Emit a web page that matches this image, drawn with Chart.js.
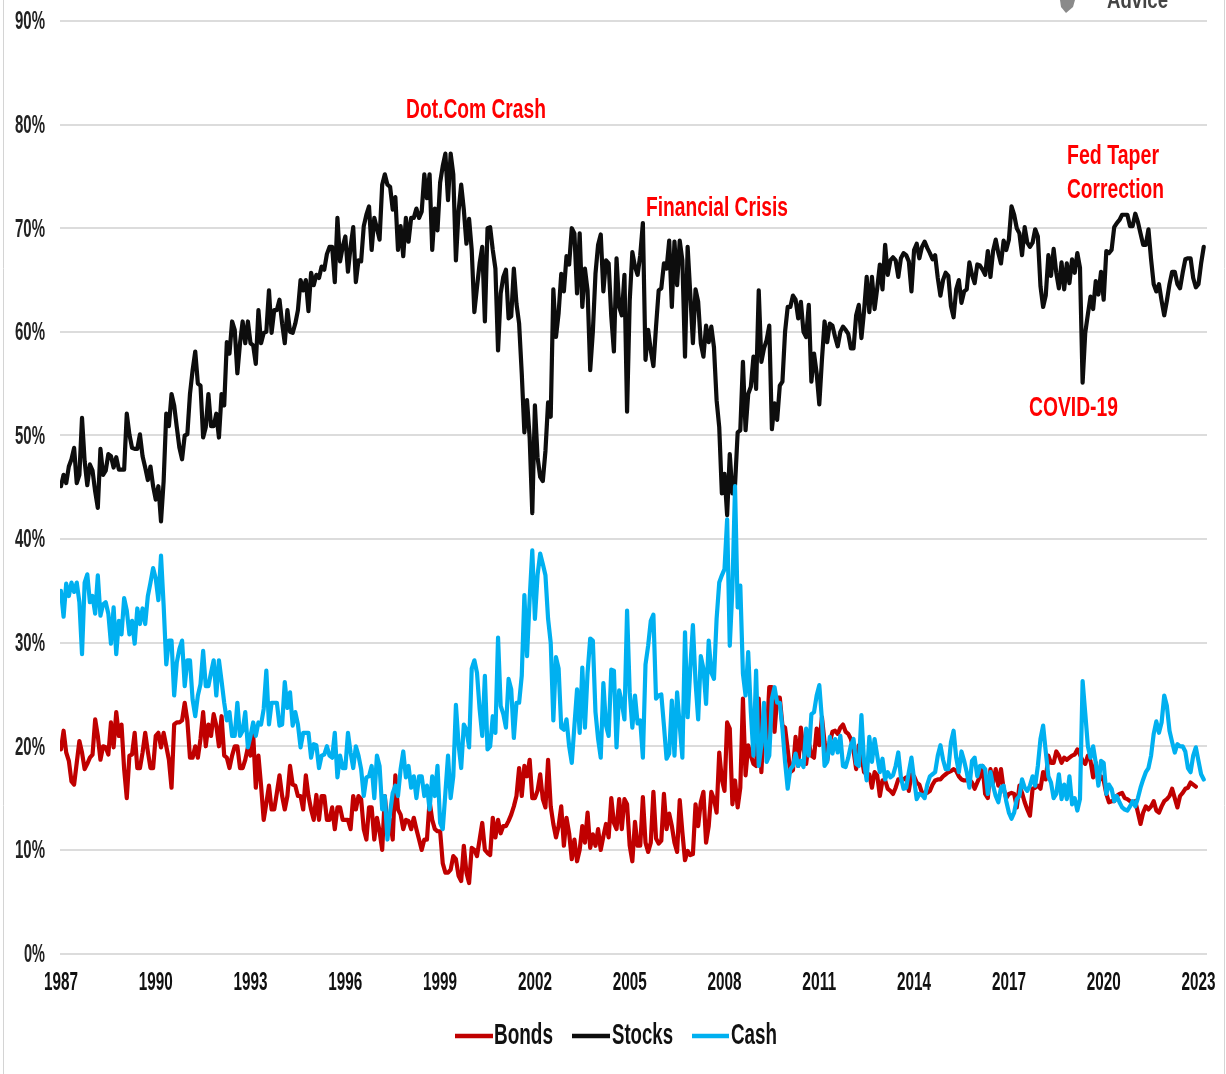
<!DOCTYPE html>
<html>
<head>
<meta charset="utf-8">
<style>html,body{margin:0;padding:0;background:#fff}canvas{display:block}</style>
<script src="https://cdn.jsdelivr.net/npm/chart.js@4/dist/chart.umd.js"></script>
</head>
<body>
<canvas id="c" width="1226" height="1074"></canvas>
<script>
const startYear = 1987;
const xTickLabels = [1987,1990,1993,1996,1999,2002,2005,2008,2011,2014,2017,2020,2023];
const yTickLabels = [0,10,20,30,40,50,60,70,80,90];
const stocks = [
45.1,46.2,45.4,47,47.7,48.8,45.4,46.2,51.7,47.5,45.2,47.2,46.6,44.6,43,48.7,46.2,46.6,48.2,48,46.9,47.9,46.7,46.7,46.7,52.1,50.1,48.8,48.7,48.7,50.1,48,46.9,45.7,47,45.1,43.8,45.1,41.7,45.6,52.1,50.9,54,52.9,50.8,48.8,47.7,50,50.1,54,56.3,58.1,55,54.8,49.8,50.8,54,50.9,50.9,52.1,49.8,54,52.9,59,57.9,61,60.2,56,58.9,61,58.9,61,58.9,58.7,56.9,62.1,58.9,59.9,60,64,59.9,62.1,62.1,63.1,60.8,58.9,62.1,60,59.9,60.8,62.1,65,64,65,62,65.7,
64.5,65.5,65.2,66.3,66,67.5,
68.2,68.2,64.8,71,66.8,68.2,69.2,65.8,68.2,70.1,64.8,66.9,66.8,70.2,71.3,72.1,67.9,71,70,68.9,74.2,75.2,74.2,74,71.8,73,67.9,70.2,67.3,71,68.7,71,71,71.9,71,71.6,75.2,72.9,75.2,67.9,71.9,69.8,74.4,76,77.2,72.7,77.2,75.2,66.9,71.6,74.2,71.8,68.5,70.9,67.9,61.9,64.3,66.6,68.2,61,70,70.1,67.9,66.1,58.2,63.7,65.3,66,61.3,61.5,66.1,62.7,60.8,56,50.3,53.4,49.8,42.5,52.9,47.9,46,45.6,48.5,53.2,51.8,64.1,59.5,61.8,65.6,63.9,67.3,66.5,70,69.5,63.7,69.5,62.4,66.1,64,56.3,60,65.6,68.4,69.4,63.9,66.9,66.6,61.5,58.1,67.1,62.4,61.6,65.5,52.3,
63,67.7,66.3,65.5,67.4,70.5,57.3,60.2,58.2,56.7,60.5,64,64.2,66.6,66.1,68.8,62.4,68.7,64.5,68.8,66.9,57.6,68.2,63.7,58.9,64.1,62.9,58.9,57.6,60.6,59,60.5,58.5,53.4,50.8,44.4,46.3,42.3,48.2,44.4,45.2,50.3,50.5,57.1,50.5,54,54.7,57.6,54.5,64,57.1,58.4,59.2,60.6,50.6,53.1,51.5,54.8,55.2,60,62.4,62.4,63.5,63.1,61.3,62.9,60,59.5,62.6,55.2,57.9,56,53,57.3,61,59,60.8,60.6,59.5,58.6,60,60.5,60.2,59.8,58.4,58.4,61.6,62.6,59.4,62,65.3,61.9,65.3,62.2,64.2,66.5,64.1,68.4,65.5,66.9,67.2,66.9,65.3,67.1,67.6,67.4,66.8,63.9,67.9,68.5,
67.1,68.2,68.7,68.1,67.6,67,67.4,65.2,63.5,65,65.7,65.4,62.5,61.4,64.1,65,62.8,63.9,64.1,66.7,65.5,64.7,66.5,66.4,66,65.5,67.8,65.3,67.8,68.9,67.6,66.6,68.8,67.9,68.9,72.1,71.3,70,69.5,67.4,70.1,68.6,68.2,68.6,69.9,69.2,64.4,62.4,63.5,67.4,65.4,68,65.7,64.2,66.7,64.1,66.6,64.7,67,65.7,67.6,66.2,55.1,59.9,61.7,63.4,62.2,64.9,63.6,65.8,63.1,67.8,67.6,67.9,70.1,70.5,70.8,71.3,71.3,71.3,70.2,70.2,71.4,70.6,69.5,68.4,68.4,69.9,67,64.6,63.9,64.6,63,61.6,63,64.6,65.8,65.8,64.6,64.2,65.7,67,67.1,67.1,65.2,64.3,64.6,66.6,68.2
];
const bonds = [
19.7,21.5,19.4,18.6,16.6,16.3,18.4,20.5,19.4,17.8,18.3,18.9,19.2,22.6,21,18.7,20,19.9,19.2,22.3,19.9,23.3,21,22.1,17.8,15,19.1,19.2,21.3,17.9,17.9,19.4,21.3,19.5,17.9,17.9,21,21.3,19.9,21.3,20,18.7,16,22.1,22.3,22.3,22.5,24.2,22.5,18.9,18.9,20,18.9,20.7,23.3,20,22.1,21,23.1,22,20,22.9,19.1,18.9,17.9,19.1,20,20,17.9,17.9,18.7,19.9,19.1,21.2,16,19.1,16.2,12.9,14.5,16.2,13.9,13.9,15.5,17.2,15.2,13.9,15.2,18.1,16.3,16.2,15.2,15.2,13.9,17.2,15.2,13.9,12.9,15.3,12.9,15.2,15.2,12.9,12.9,14.1,12,14.1,
14.1,12.9,12.9,12.9,12,15.2,13.9,15.2,14.9,12,11,14.1,14.1,11,13.1,11.8,10,15.2,12.3,12.9,11,17.2,13.9,13.4,12,12.9,12.8,12,13.1,12,11,10,11,11,14.7,12.9,12,11.8,11.8,8.7,7.8,7.8,8.1,9.4,9.1,7.5,7,10.4,7.8,6.8,10.2,10,9.4,11,12.6,10,9.7,9.5,13.1,11.2,12.9,11.6,12.3,12.3,12.8,13.4,14.2,15.2,17.9,15.2,18.1,17.1,18.7,15,15,15.7,17.3,14.9,14.1,18.7,14.2,12.5,11.2,12.3,14.2,10.4,13.1,11.6,9.1,11,8.9,10,12.3,10.7,13.6,10.2,11.5,10.4,12,10,11.3,12.5,11.2,15,12.6,12,14.9,12,14.9,
14.4,10.4,8.9,12.7,10.4,10.4,15.1,10.7,9.8,10.7,15.6,11.1,10.6,10.9,15.4,12,13.5,12.3,10.7,9.8,14.8,11.7,9,9.9,9.5,9.6,14.4,12.3,14.6,15.6,10.7,12.3,15.6,14.9,13.6,19.4,16.8,15.7,22.3,21.7,14.4,16.7,14.1,16,24.6,17.2,20.1,19.1,18.3,18.1,24.6,17.5,22.6,20.7,25.7,25.7,21.4,24.7,24.7,22,21.8,19.7,17.5,17.7,20.9,18.1,21.8,19.7,18.3,20.4,19.1,18.9,21.7,20.1,22.8,20.4,18.6,20.4,21.4,21.5,21.2,21.8,22.1,21.4,21.2,20.7,19.6,17.8,20.1,19.1,17.5,17.3,17.3,16,17.5,17.2,15.2,16.7,16.7,15.9,15.7,15.4,16,16.8,16.8,16.8,17,15.7,17.3,
17.1,16.5,16.3,15.5,15.5,15.5,15.7,16.3,16.7,16.8,16.8,17.1,17.3,17.5,17.6,17.8,17.6,17.1,16.8,16.7,16.7,16.8,16.5,15.9,16.5,17.1,18.1,15.4,15,17.8,16.5,17.8,16.2,17.8,15.9,15,15.4,15.5,15.4,14.1,16.2,15.5,14.6,13.9,13.3,15.9,16,16.2,15.9,17.5,16.8,19.1,18.4,18.4,19.5,19.1,18.4,18.9,18.7,18.9,19.1,19.2,19.7,19.2,18.6,18.3,19.1,18.6,17,18.4,16.5,17.1,16.7,15.4,14.6,14.7,14.7,15.2,15.4,15.5,15,14.9,14.7,14.6,14.7,13.6,12.5,13.6,14.2,13.9,14.2,14.7,13.8,13.6,14.2,14.7,14.9,15.2,15.9,15,14.1,15.2,15.5,15.9,16,16.5,16.3,16.1
];
const cash = [
35,32.5,35.7,34.5,35.8,34.9,35.8,33.9,28.9,35.8,36.6,33.9,34.5,32.8,36.5,32.6,33.7,33.9,32.8,29.9,33.4,28.9,32.1,30.8,34.3,33.1,30.8,32.1,29.9,33.3,31.8,33.3,31.8,34.5,35.8,37.2,36.2,34.1,38.4,33.6,27.9,30.2,30.2,24.9,28.1,29.4,30.2,25.8,28.3,28.3,24.5,22.9,24.9,26,29.2,25.8,25.8,27.1,28.3,24.9,28.3,26.3,24.2,22.5,23.3,21,21,24.2,21,21.5,23.3,19.9,21,22.3,21,22.3,22.1,23.6,27.3,22.1,24.2,24.2,24.2,22,22.1,26.2,23.7,25.2,22,23.3,22.1,19.9,21.3,21.3,21.3,18.9,20.2,20.1,17.9,19.1,19.2,20,19.1,18.9,21.3,17,19.1,
17.9,17.9,21.3,19.4,17.9,20,19.1,17.8,15.2,17,17.1,18.1,15,19.1,18.1,13.9,15.2,11,13.6,15.5,16.2,15.2,17.8,19.5,17,18.1,16,17.1,15,17.1,17.1,15.2,16.2,13.9,17.1,15.2,18.1,12.6,12,15.5,19.1,15,17.1,24,20.2,17.9,22.1,21.6,19.9,27.5,28.3,27.1,23.6,21,26.8,19.7,20,22.9,21.3,30.5,23.9,23.1,21.8,26.5,25.5,20.8,24.2,24.2,26.8,34.6,28.7,34.2,38.9,32.3,36.5,38.6,37.6,36.5,32.3,30,22.5,28.6,27.5,21.8,21.6,22.6,20,18.4,22,25.5,21.3,27.6,21.8,27.1,30.4,30.2,23.3,20.7,18.9,26.1,22,21,27.4,27.3,19.9,25.4,24.2,22.6,33.1,
25.2,21.8,24.9,22.2,22.5,18.9,27.9,29.7,32.1,32.7,24.6,24.9,25,22,18.8,19.3,24.4,19.1,25.2,22,18.9,31,22.8,27.5,31.7,26.2,22.6,28.7,27.5,24.1,30.2,27.1,26.5,32.3,35.8,36.5,37.1,41.9,29.7,35.2,45.1,33.4,35.5,27,24.9,29.1,23.3,19.1,27.3,18.1,20.1,24.2,18.5,19.1,24.6,25.7,24.2,24.2,21.7,18.5,15.9,17.8,18.1,19.3,18.1,18.6,18,21.7,19.1,23.1,23.3,24.9,25.9,22.6,18.1,18.5,20.9,19.3,20.7,19.4,21,18.1,18,18.9,20.1,20.7,18.3,18.1,23,18.5,16.7,20.9,18.5,20.7,19.1,17.5,18.8,16.8,17.5,17,17.2,18.1,19.4,17,15.9,16,17.5,18.9,16.8,14.9,
15.4,15.3,15,16.3,17.1,17.3,17.5,19.1,20.1,18.7,17.8,17.8,20.4,21.5,18.9,17.5,19.5,18.6,17.5,16,18.6,18.9,17.1,18.1,18.1,17.8,15.4,17.5,16.2,15.2,14.6,16,16.2,14.7,13.6,13,13.6,14.9,15.2,16.8,16,15.7,16.2,17.1,16.2,18.1,20.7,22,19.5,17.1,16.5,15,15.4,17.3,14.9,16.3,14.9,17.1,14.4,15,13.8,14.9,26.3,23.2,20,18.9,20,18.4,16.2,18.6,18.4,15.4,16.3,15.9,14.7,15.2,14.6,14.1,13.9,13.8,14.2,14.7,14.2,15,16,16.8,17.5,17.9,19.1,21.2,22.4,21.3,22.3,24.9,23.9,21.5,20.4,19.4,20.2,20,20,19.5,17.9,17.5,19.1,19.9,18.6,17.3,16.8
];
const colors = {Bonds:'#C00000',Stocks:'#0d0d0d',Cash:'#00B0F0'};
const annotations = [
  {text:'Dot.Com Crash',x:406,y:110,w:140},
  {text:'Financial Crisis',x:646,y:208,w:142},
  {text:'Fed Taper',x:1067,y:156,w:92},
  {text:'Correction',x:1067,y:190,w:97},
  {text:'COVID-19',x:1029,y:408,w:89}
];
const pts = a => a.map((v,i)=>({x:startYear+i/12,y:v}));

function fitText(ctx,text,x,y,w,font,color,align){
  ctx.save();
  ctx.font=font;
  ctx.fillStyle=color;
  ctx.textBaseline='middle';
  ctx.textAlign='left';
  const nat=ctx.measureText(text).width;
  const sx=w/nat;
  const left=align==='center'?x-w/2:align==='right'?x-w:x;
  ctx.translate(left,y);
  ctx.scale(sx,1);
  ctx.fillText(text,0,0);
  ctx.restore();
}
const labelsPlugin={
  id:'labels',
  afterDraw(chart){
    const ctx=chart.ctx,sx=chart.scales.x,sy=chart.scales.y;
    ctx.save();
    ctx.strokeStyle='#d4d4d4';ctx.lineWidth=1;
    ctx.beginPath();ctx.moveTo(3.5,0);ctx.lineTo(3.5,1074);ctx.moveTo(1224.5,0);ctx.lineTo(1224.5,1074);ctx.stroke();
    ctx.fillStyle='#8a8a8a';
    ctx.beginPath();ctx.moveTo(1060,0);ctx.lineTo(1075,0);ctx.lineTo(1073,7);ctx.lineTo(1066,13);ctx.lineTo(1061,7);ctx.closePath();ctx.fill();
    ctx.restore();
    fitText(ctx,'Advice',1107,1,61,'bold 24px "Liberation Sans"','#444','left');
    yTickLabels.forEach(v=>{
      fitText(ctx,v+'%',45,sy.getPixelForValue(v)+1.5,v===0?21:30,'bold 25px "Liberation Sans"','#222','right');
    });
    xTickLabels.forEach(v=>{
      fitText(ctx,String(v),sx.getPixelForValue(v),983,34,'bold 25px "Liberation Sans"','#111','center');
    });
    const leg=[[455,493,494,59],[572,610,612,61],[692,729,731,46]];
    chart.data.datasets.forEach((d,i)=>{
      const l=leg[i];
      ctx.save();ctx.strokeStyle=d.borderColor;ctx.lineWidth=4.5;
      ctx.beginPath();ctx.moveTo(l[0],1036);ctx.lineTo(l[1],1036);ctx.stroke();ctx.restore();
      fitText(ctx,d.label,l[2],1036,l[3],'bold 29px "Liberation Sans"','#111','left');
    });
    annotations.forEach(a=>fitText(ctx,a.text,a.x,a.y,a.w,'bold 28px "Liberation Sans"','#FF0000','left'));
  }
};
new Chart(document.getElementById('c').getContext('2d'),{
  type:'line',
  data:{datasets:[
    {label:'Bonds',data:pts(bonds),borderColor:colors.Bonds,order:2},
    {label:'Stocks',data:pts(stocks),borderColor:colors.Stocks,order:1},
    {label:'Cash',data:pts(cash),borderColor:colors.Cash,order:0}
  ].map(d=>Object.assign(d,{borderWidth:4.2,pointRadius:0,tension:0,fill:false,borderJoinStyle:'round',borderCapStyle:'round'}))},
  options:{
    responsive:false,animation:false,
    layout:{padding:{left:60,top:21,right:19,bottom:112.5}},
    plugins:{legend:{display:false},title:{display:false},tooltip:{enabled:false}},
    scales:{
      x:{type:'linear',min:startYear-0.03,max:2023.27,display:true,
         grid:{display:false},border:{display:false},
         ticks:{display:false,stepSize:3}},
      y:{min:0,max:90,display:true,
         grid:{color:'#dcdcdc',lineWidth:2,drawTicks:false},border:{display:false},
         ticks:{display:false,stepSize:10}}
    }
  },
  plugins:[labelsPlugin]
});
</script>
</body>
</html>
